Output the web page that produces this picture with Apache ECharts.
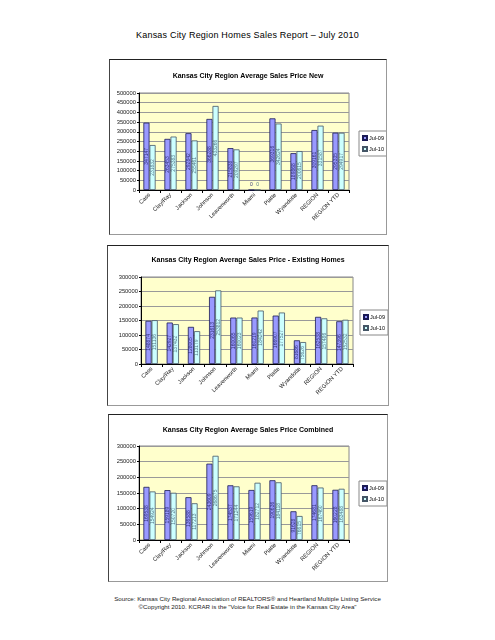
<!DOCTYPE html>
<html>
<head>
<meta charset="utf-8">
<script src="https://cdn.jsdelivr.net/npm/echarts@6/dist/echarts.min.js"></script>
<style>
  body { margin: 0; background: #fff; }
  #page { position: relative; width: 495px; height: 640px; font-family: "Liberation Sans", Arial, sans-serif; }
  .head { position: absolute; left: 0; width: 495px; top: 30px; text-align: center; font-size: 9px; line-height: 10px; color: #000; letter-spacing: 0.2px; }
  .box { position: absolute; border-top: 1px solid #222; border-left: 1px solid #444; border-right: 1px solid #999; border-bottom: 1px solid #999; background: #fff; }
  .foot { position: absolute; left: 0; width: 495px; top: 595px; text-align: center; font-size: 6.2px; line-height: 7.5px; color: #222; }
</style>
</head>
<body>
<div id="page">
  <div class="head">Kansas City Region Homes Sales Report – July 2010</div>
  <div class="box" id="chartNew" style="left:109px;top:59px;width:276px;height:174px"></div>
  <div class="box" id="chartExisting" style="left:107px;top:245px;width:280px;height:159px"></div>
  <div class="box" id="chartCombined" style="left:108px;top:414px;width:278px;height:166px"></div>
  <div class="foot">Source: Kansas City Regional Association of REALTORS® and Heartland Multiple Listing Service<br>©Copyright 2010. KCRAR is the "Voice for Real Estate in the Kansas City Area"</div>
</div>
<script>
// categories shared by all three charts
const categories = ["Cass", "Clay/Ray", "Jackson", "Johnson", "Leavenworth", "Miami", "Platte", "Wyandotte", "REGION", "REGION YTD"];
const seriesNames = ["Jul-09", "Jul-10"];

// Average Sales Price New
const newJul09 = [347147, 263453, 292842, 366288, 215838, 0, 369316, 189868, 309161, 295335];
const newJul10 = [231832, 275383, 255461, 433266, 209297, 0, 342624, 200615, 331587, 294917];

// Average Sales Price - Existing Homes
const existingJul09 = [148874, 142927, 128005, 231613, 160065, 160219, 166907, 81686, 162538, 147396];
const existingJul10 = [151136, 137432, 113179, 253812, 160023, 184242, 177527, 75626, 157486, 152532];

// Average Sales Price Combined
const combinedJul09 = [169538, 159189, 136588, 243609, 174537, 159619, 190636, 91628, 174681, 160228];
const combinedJul10 = [154924, 150720, 117213, 268675, 171244, 182712, 184118, 76615, 167460, 163488];

// y axis max per chart
const newMax = 500000;
const existingMax = 300000;
const combinedMax = 300000;

const FONT = "Liberation Sans";

// zero values get their "0" label just above the axis (like Miami on the New chart)
const toBarData = (values) =>
  values.map((v) =>
    v === 0 ? { value: v, label: { position: "top", rotate: 0, distance: 2 } } : v
  );

const makeChart = (domId, titleText, jul09, jul10, yMax, layout) => {
  const myChart = echarts.init(document.getElementById(domId), null, { renderer: "canvas" });
  const barLabel = (color) => ({
    show: true,
    position: "inside",
    rotate: 90,
    fontSize: 5,
    fontFamily: FONT,
    color: color,
  });
  const chartJson = {
    animation: false,
    title: {
      text: titleText,
      left: "center",
      top: layout.titleTop,
      textStyle: { fontSize: 7, fontWeight: "bold", fontFamily: FONT, color: "#000" },
    },
    legend: {
      orient: "vertical",
      left: layout.legendLeft,
      top: layout.legendTop,
      data: seriesNames,
      icon: "rect",
      itemWidth: 4,
      itemHeight: 4,
      itemGap: 5,
      padding: [4, 3, 4, 3],
      borderColor: "#888",
      borderWidth: 1,
      backgroundColor: "#fff",
      textStyle: { fontSize: 5.5, fontFamily: FONT, color: "#000", padding: [0, 0, 0, -3] },
    },
    grid: {
      show: true,
      left: layout.gridLeft,
      top: layout.gridTop,
      width: layout.gridWidth,
      height: layout.gridHeight,
      backgroundColor: "#FFFFCC",
      borderColor: "#888",
      borderWidth: 1,
    },
    xAxis: {
      type: "category",
      data: categories,
      axisLine: { show: true, lineStyle: { color: "#000", width: 1 } },
      axisTick: { show: true, length: 3, lineStyle: { color: "#000" } },
      axisLabel: { interval: 0, rotate: 45, margin: 4, fontSize: 5.8, fontFamily: FONT, color: "#222" },
      splitLine: { show: false },
    },
    yAxis: {
      type: "value",
      min: 0,
      max: yMax,
      interval: 50000,
      axisLine: { show: true, lineStyle: { color: "#000", width: 1 } },
      axisTick: { show: true, length: 2, lineStyle: { color: "#000" } },
      axisLabel: {
        margin: 3,
        fontSize: 5.8,
        fontFamily: FONT,
        color: "#222",
        formatter: (v) => String(v),
      },
      splitLine: { show: true, lineStyle: { color: "#999", width: 1 } },
    },
    series: [
      {
        name: seriesNames[0],
        type: "bar",
        data: toBarData(jul09),
        barGap: "0%",
        barCategoryGap: "42%",
        itemStyle: { color: "#9999FF", borderColor: "#1a1a55", borderWidth: 0.8 },
        label: barLabel("#333377"),
      },
      {
        name: seriesNames[1],
        type: "bar",
        data: toBarData(jul10),
        itemStyle: { color: "#CCFFFF", borderColor: "#445566", borderWidth: 0.8 },
        label: barLabel("#557788"),
      },
    ],
  };
  myChart.setOption(chartJson);
  return myChart;
};

makeChart("chartNew", "Kansas City Region Average Sales Price New", newJul09, newJul10, newMax, {
  titleTop: 8, legendLeft: 249, legendTop: 71,
  gridLeft: 29, gridTop: 33, gridWidth: 210, gridHeight: 97,
});
makeChart("chartExisting", "Kansas City Region Average Sales Price - Existing Homes", existingJul09, existingJul10, existingMax, {
  titleTop: 6, legendLeft: 252, legendTop: 64,
  gridLeft: 33, gridTop: 31, gridWidth: 212, gridHeight: 87,
});
makeChart("chartCombined", "Kansas City Region Average Sales Price Combined", combinedJul09, combinedJul10, combinedMax, {
  titleTop: 7, legendLeft: 250, legendTop: 66,
  gridLeft: 30, gridTop: 31, gridWidth: 210, gridHeight: 94,
});
</script>
</body>
</html>
